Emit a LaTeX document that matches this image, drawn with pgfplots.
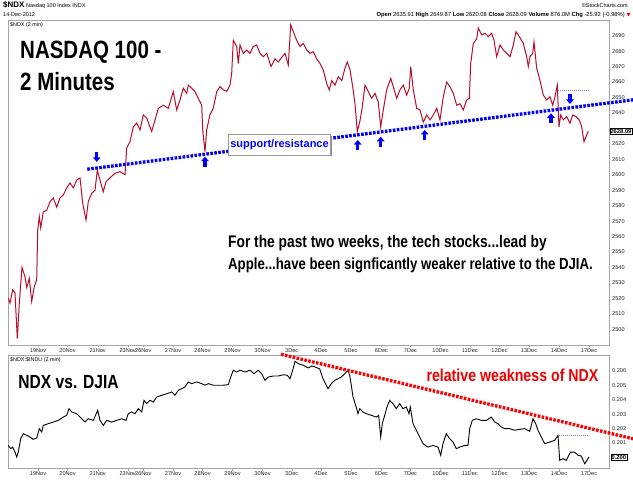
\documentclass[border=0pt]{standalone}
\usepackage{fontspec}
\setmainfont{Liberation Sans}
\newfontfamily\condb{Liberation Sans}[FakeStretch=0.82]
\usepackage{pgfplots}
\pgfplotsset{compat=1.18}
\usetikzlibrary{arrows.meta}
\definecolor{pricered}{RGB}{185,12,42}
\definecolor{lblue}{RGB}{120,120,255}
\definecolor{framegray}{RGB}{165,165,165}
\definecolor{relred}{RGB}{240,0,0}

\pgfplotstableread{
x y
8.3 2520
10 2517
12.7 2525.5
15 2523.5
17.3 2494
19.3 2517
22 2540
25 2534
26.7 2527
29.3 2533
31.7 2518
34.3 2527.6
36.7 2532
37.7 2564
39.3 2573
40.7 2565.6
43.3 2576
46.7 2577
50 2582.6
53.3 2585
56.7 2579
60 2585
63.3 2587
66.7 2591.5
70 2594.7
73.3 2591.5
76.7 2596.6
80 2598
82.7 2581.7
86 2570.7
88.3 2582.6
91.7 2588
95 2590
97.3 2603
100 2596.6
103.3 2589
106 2595.5
110 2598
115 2601
120 2602
125 2600
126.7 2617.3
130 2621.4
133.3 2631
136.7 2633.5
140 2629
143.3 2638.7
146.7 2636.7
151.7 2628
155 2635.4
158.3 2643
163.3 2645
168.3 2643
173.3 2653.8
176.7 2642
180 2648.4
183.3 2656
186.7 2652.7
188.3 2658
191.7 2656
195 2653.8
198.3 2649.5
201.7 2645
202.7 2629
205 2615
206.7 2629
210 2639
213.3 2643
216.7 2653.8
220 2657
223.3 2655
226.7 2654
230 2658
231.7 2665.7
233.3 2687
236.7 2683
238.3 2672
240 2684
243.3 2678.6
246.7 2680.7
250 2678.6
253.3 2683
256.7 2684
260 2678.6
263.3 2676.4
266.7 2678.6
271 2670
275 2675
278.3 2673
281.7 2676
285 2678.6
288.3 2671
290.7 2697
293.3 2692.6
296.7 2687
300 2683
303.3 2685
306.7 2680.7
310 2678.6
313.3 2679.6
316.7 2675
320 2672
323.3 2667.8
326.7 2659
329.3 2655
331.7 2661
335 2658
338.3 2663.5
341.7 2661
345 2669
347.3 2673
350 2668
352.7 2657
355 2646
357.3 2628
360 2635
362.3 2644
365 2658
368.3 2653.8
371.7 2649.5
375 2652.7
378.3 2647
380.7 2631
383.3 2642
386.7 2655
390.7 2662.4
393.3 2657
396.7 2649.5
400 2655
403.3 2658
406.7 2651.6
409.3 2656
410.7 2670
413.3 2655
416.7 2643
420 2642
423.3 2634
426.7 2638.7
430 2635.5
433.3 2638.7
436.7 2643
440 2635.5
443.3 2650.5
446.7 2660
450 2657
453.3 2652.7
456.7 2645
460 2646
463.3 2642
466.7 2648.4
469.3 2649.5
470.7 2672
473.3 2685
476.7 2688
478.3 2695
481.7 2690.5
485 2691.6
488.3 2689.4
491.7 2691.6
494 2687
496.7 2676.4
500 2684
503.3 2680.7
506.7 2678.6
510 2676.4
513.3 2684
516 2692.6
519.3 2689.4
523.3 2685
526.7 2676.4
528.3 2670
530 2676.4
532.7 2678.6
534 2686
536.7 2669
540 2661
543.3 2651.6
546.7 2648.4
550 2650.5
552.7 2645
555 2650.5
557.3 2658
559 2631
560.7 2638.7
563.3 2635.5
566.7 2637.6
570 2633.3
572.7 2638.7
576 2637.6
579.3 2635.5
581.7 2631
584 2621.4
586.7 2625.8
588.3 2628.09
}\ndxtable

\pgfplotstableread{
x y
8.3 0.20083
10.7 0.20060
12.7 0.20071
15 0.20036
16.7 0.20002
18.3 0.20036
20.7 0.20129
23.3 0.20164
26.7 0.20153
30 0.20141
33.3 0.20125
36.7 0.20134
39.3 0.20199
41.7 0.20176
43.3 0.20222
48.3 0.20234
53.3 0.20245
58.3 0.20257
63.3 0.20280
66.7 0.20292
69 0.20338
71.7 0.20315
76.7 0.20303
81.7 0.20268
85 0.20245
88.3 0.20268
93.3 0.20257
97.7 0.20327
100 0.20257
103.3 0.20222
106.7 0.20257
111.7 0.20245
116.7 0.20257
121.7 0.20268
126 0.20257
128.3 0.20303
131.7 0.20315
135 0.20303
138.3 0.20338
141.7 0.20315
144 0.20396
146.7 0.20373
150 0.20396
153.3 0.20384
156.7 0.20419
161.7 0.20431
166.7 0.20442
171.7 0.20454
175 0.20431
178.3 0.20466
181.7 0.20477
185 0.20489
188.3 0.20524
191.7 0.20512
196.7 0.20524
201.7 0.20512
205 0.20501
208.3 0.20512
213.3 0.20501
218.3 0.20501
223.3 0.20501
228.3 0.20505
230.7 0.20558
233.3 0.20605
236.7 0.20593
240 0.20605
245 0.20593
250 0.20605
254 0.20581
258.3 0.20605
261.7 0.20581
265 0.20535
268.3 0.20558
273.3 0.20565
278.3 0.20565
283.3 0.20574
287.3 0.20570
290 0.20546
292.7 0.20605
295 0.20667
298.3 0.20651
303.3 0.20640
308.3 0.20621
311.7 0.20635
315 0.20628
319.7 0.20615
323 0.20546
326.3 0.20501
328 0.20477
331.3 0.20512
334.7 0.20535
338 0.20546
341.3 0.20558
344.7 0.20581
348 0.20605
349.7 0.20570
351.3 0.20501
353 0.20419
355.7 0.20361
358 0.20303
359.7 0.20338
363 0.20315
366.3 0.20303
371.3 0.20292
376.3 0.20280
378.7 0.20292
380.7 0.20141
382.3 0.20234
384.7 0.20292
387 0.20350
389.7 0.20396
393 0.20373
396.3 0.20338
399.7 0.20373
403 0.20338
406.3 0.20350
409 0.20303
410.3 0.20350
413 0.20234
416.3 0.20188
419.7 0.20141
423 0.20095
428 0.20071
433 0.20083
438 0.20071
440.7 0.20014
443 0.20095
446.3 0.20164
449.7 0.20129
453 0.20106
456.3 0.20060
459.7 0.20071
464.7 0.20083
468 0.20083
469.7 0.20199
472.3 0.20257
476.3 0.20268
481.3 0.20257
486.3 0.20257
491.3 0.20280
494.7 0.20245
498 0.20234
501.3 0.20211
504.7 0.20199
509.7 0.20199
514.7 0.20188
519.7 0.20195
524.7 0.20199
529.7 0.20181
531.3 0.20222
533 0.20268
535.7 0.20234
538 0.20188
541.3 0.20141
544.7 0.20095
549.7 0.20106
554.7 0.20118
558 0.20153
559.7 0.19979
563 0.19991
566.3 0.19979
570.3 0.20036
574.7 0.20036
578 0.20014
581.3 0.20009
584.7 0.19955
587 0.19979
589 0.20002
}\ratiotable

\pgfplotsset{
  chart/.style={
    scale only axis, width=601pt, xmin=8, xmax=609,
    anchor=south west, clip=false,
    axis line style={framegray},
    tick align=outside, major tick length=2pt,
    xtick pos=left, ytick pos=right, yticklabel pos=right,
    ytick style={draw=none}, xtick style={framegray},
    ticklabel style={font=\fontsize{5.6}{6}\selectfont, text=black!85, inner sep=1pt},
    /pgf/number format/assume math mode=true,
    xtick={38,67.5,97.7,127.7,143.3,173,202.5,232.5,262.5,291.7,321,351,381.5,410.5,440.5,469.8,499.5,529,559,589},
    xticklabels={19Nov,20Nov,21Nov,23Nov,26Nov,27Nov,28Nov,29Nov,30Nov,3Dec,4Dec,5Dec,6Dec,7Dec,10Dec,11Dec,12Dec,13Dec,14Dec,17Dec},
  }
}
\tikzset{
  barrow/.style={draw=blue, line width=3.2pt, -{Triangle[width=7.5pt,length=4.5pt]}},
}

\begin{document}
\begin{tikzpicture}
\path[use as bounding box] (0,0) rectangle (633pt,480pt);

% ---------- top panel ----------
\begin{axis}[chart, at={(8pt,135pt)}, height=325pt,
  ymin=2489.84, ymax=2700.16,
  ytick={2500,2510,2520,2530,2540,2550,2560,2570,2580,2590,2600,2610,2620,2640,2650,2660,2670,2680,2690},
  /pgf/number format/1000 sep={}]
  \addplot[pricered, line width=1pt] table[x=x,y=y]{\ndxtable};
  % support / resistance
  \addplot[blue, line width=3.3pt, dash pattern=on 2.6pt off 1.4pt] coordinates {(87.3,2603.6) (633,2648.5)};
  \addplot[lblue, line width=0.7pt, dash pattern=on 1pt off 1pt] coordinates {(558,2654.4) (589,2654.4)};
  % arrows
  \draw[barrow] (axis cs:96.7,2614.9) -- (axis cs:96.7,2608.4);
  \draw[barrow] (axis cs:205,2605.2) -- (axis cs:205,2611.7);
  \draw[barrow] (axis cs:357.7,2616.0) -- (axis cs:357.7,2622.5);
  \draw[barrow] (axis cs:380.7,2618.1) -- (axis cs:380.7,2624.6);
  \draw[barrow] (axis cs:424.7,2622.5) -- (axis cs:424.7,2629.0);
  \draw[barrow] (axis cs:551,2633.3) -- (axis cs:551,2639.8);
  \draw[barrow] (axis cs:570,2652.3) -- (axis cs:570,2645.8);
  \node[anchor=west, draw=black, fill=white, inner sep=0.8pt, font=\fontsize{5.8}{6}\selectfont\bfseries] at (axis cs:609.5,2628.09) {2628.09};
\end{axis}

% ---------- lower panel ----------
\begin{axis}[chart, at={(8pt,11.3pt)}, height=113.4pt,
  ymin=0.19921, ymax=0.20709,
  ytick={0.201,0.202,0.203,0.204,0.205,0.206},
  yticklabel style={/pgf/number format/.cd, fixed, fixed zerofill, precision=3}]
  \addplot[black, line width=0.9pt] table[x=x,y=y]{\ratiotable};
  \addplot[red, line width=3.3pt, dash pattern=on 2.6pt off 1.4pt] coordinates {(281,0.20716) (633,0.20129)};
  \addplot[lblue, line width=0.7pt, dash pattern=on 1pt off 1pt] coordinates {(559,0.20153) (589,0.20153)};
  \node[anchor=west, draw=black, fill=white, inner sep=0.8pt, font=\fontsize{5.8}{6}\selectfont\bfseries] at (axis cs:610.5,0.2000) {0.200};
\end{axis}

% ---------- header ----------
\node[anchor=base west, inner sep=0] at (3pt,472pt) {{\fontsize{8}{9}\selectfont\bfseries \$NDX}\,{\fontsize{5.5}{6}\selectfont Nasdaq 100 Index INDX}};
\node[anchor=base west, inner sep=0, font=\fontsize{5.5}{6}\selectfont] at (3pt,463.5pt) {14-Dec-2012};
\node[anchor=base east, inner sep=0, font=\fontsize{5.5}{6}\selectfont] at (628pt,472pt) {©StockCharts.com};
\node[anchor=base east, inner sep=0, font=\fontsize{5.8}{6}\selectfont] at (625pt,463.5pt)
  {\textbf{Open} 2635.91 \textbf{High} 2649.87 \textbf{Low} 2620.08 \textbf{Close} 2628.09 \textbf{Volume} 876.0M \textbf{Chg} -25.92 (-0.98\%)};
\fill[red] (626.5pt,467pt) -- (630.5pt,467pt) -- (628.5pt,463.8pt) -- cycle;
\node[anchor=base west, inner sep=0, font=\fontsize{5.4}{6}\selectfont] at (10pt,453pt) {\$NDX (2 min)};
\node[anchor=base west, inner sep=0, font=\fontsize{5.4}{6}\selectfont] at (10pt,118pt) {\$NDX:\$INDU (2 min)};

% ---------- annotations ----------
\node[anchor=base west, inner sep=0, font=\condb\bfseries\fontsize{25}{30}\selectfont] at (20pt,421.7pt) {NASDAQ 100 -};
\node[anchor=base west, inner sep=0, font=\condb\bfseries\fontsize{25}{30}\selectfont] at (20pt,389.3pt) {2 Minutes};
\node[anchor=base west, inner sep=0, font=\condb\bfseries\fontsize{16.8}{20}\selectfont] at (228pt,232.3pt) {For the past two weeks, the tech stocks...lead by};
\node[anchor=base west, inner sep=0, font=\condb\bfseries\fontsize{16.1}{20}\selectfont] at (228pt,210.3pt) {Apple...have been signficantly weaker relative to the DJIA.};
\node[anchor=base west, inner sep=0, font=\condb\bfseries\fontsize{19}{22}\selectfont] at (18.3pt,91.3pt) {NDX vs. DJIA};
\node[anchor=base west, inner sep=0, text=relred, font=\condb\bfseries\fontsize{17.3}{20}\selectfont] at (426.3pt,98.7pt) {relative weakness of NDX};
\fill[black!45] (229.8pt,324.2pt) rectangle (331.8pt,344.4pt);
\node[draw=black!40, fill=white, minimum width=102pt, minimum height=20.4pt, inner sep=0, text=blue, font=\bfseries\fontsize{11}{12}\selectfont] at (279.5pt,335.4pt) {support/resistance};
\end{tikzpicture}
\end{document}
